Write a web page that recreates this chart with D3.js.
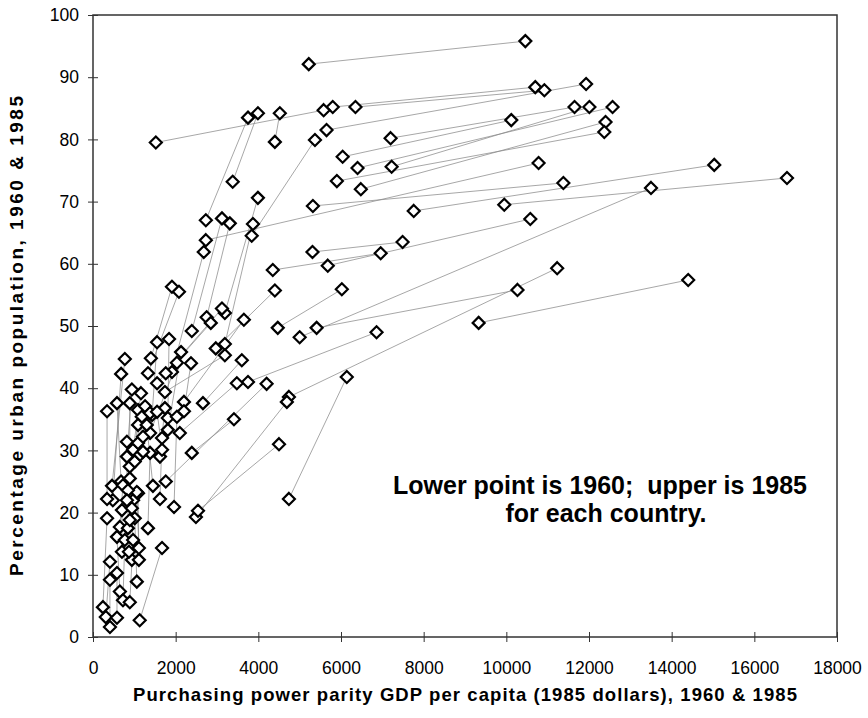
<!DOCTYPE html>
<html><head><meta charset="utf-8">
<script src="https://cdn.jsdelivr.net/npm/d3@7"></script>
<style>body{margin:0;background:#fff}svg{display:block}</style>
</head><body>
<svg id="c" width="868" height="718"></svg>
<script>
// 1960 and 1985 values for each country (paired by index)
const gdp1960 = [5220,5800,6350,1520,7200,6040,5650,7225,6400,6480,5900,2730,5320,5000,7760,9950,5680,4740,5410,9330,5310,4350,3750,4470,4740,
 3380,4400,2730,3840,3190,2390,2750,3190,1910,2970,1760,1550,2200,1400,1330,1740,2660,2100,2490,2540,1760,2390,2200,970,820,1430,1810,1810,1380,460,480,680,340,
 410,310,240,580,1130,650,725,890,1060,940,700,870,1110,1110,650,845,890,1330,820,890,1010,1140,1210,1090,1210,1620,1670,1620,1960,1450];
const urb1960 = [92.1,85.2,85.2,79.5,80.2,77.2,81.5,75.6,75.4,72.0,73.3,63.8,69.3,48.2,68.5,69.5,59.7,38.6,49.7,50.5,61.9,59.0,41.0,49.7,22.2,
 73.2,79.6,67.0,64.5,52.1,49.2,51.4,47.1,42.6,46.4,42.4,40.8,37.8,44.8,42.4,39.4,37.6,32.8,19.3,20.3,25.0,29.6,36.3,30.1,29.0,35.7,35.2,33.3,32.8,24.3,22.0,25.0,22.2,
 1.6,3.2,4.8,3.1,2.7,7.3,5.9,5.6,8.9,12.4,13.7,13.7,12.4,14.3,17.7,17.5,18.8,17.5,22.0,27.4,28.2,29.3,29.8,31.2,32.2,29.0,30.1,22.2,20.9,24.3];
const gdp1985 = [10460,10700,10920,5580,11650,10120,11930,12010,12570,12400,12370,10780,11380,13500,15030,16790,10580,11230,10270,14400,7490,6960,6860,6020,6140,
 3990,4520,3750,5370,3990,3120,3310,3870,2680,4400,3120,2850,3650,1910,2080,3190,3600,3480,4690,4500,4200,3410,2370,1160,940,1550,1840,2130,2030,770,680,580,340,
 410,410,340,580,1670,580,770,970,1010,970,700,940,1090,1060,725,845,890,1380,820,890,1090,1180,1260,1090,1380,1740,1550,1670,2030,1300];
const urb1985 = [95.8,88.4,87.9,84.7,85.2,83.1,88.9,85.2,85.2,82.8,81.2,76.2,73.0,72.2,75.9,73.8,67.2,59.3,55.8,57.4,63.5,61.7,49.0,55.9,41.8,
 84.2,84.2,83.5,79.9,70.6,67.3,66.5,66.4,61.9,55.7,52.8,50.5,51.0,56.3,55.5,45.3,44.5,40.8,37.8,31.0,40.7,35.0,44.0,39.2,39.8,47.4,47.9,45.8,44.1,44.7,42.3,37.6,36.3,
 9.2,12.1,19.1,10.3,14.3,16.1,15.6,15.6,19.1,22.0,20.4,20.7,23.1,23.3,24.4,23.6,25.5,29.6,31.4,37.6,36.5,35.4,37.1,34.1,36.0,36.8,36.2,32.0,35.4,34.1];

const xTicks = [0,2000,4000,6000,8000,10000,12000,14000,16000,18000];
const yTicks = [0,10,20,30,40,50,60,70,80,90,100];
const xTitle = "Purchasing power parity GDP per capita (1985 dollars), 1960 & 1985";
const yTitle = "Percentage urban population, 1960 & 1985";
const note = ["Lower point is 1960;  upper is 1985", "for each country."];

const svg = d3.select("#c");
const L = 93, R = 837, T = 15, B = 637;
const x = d3.scaleLinear().domain([0,18000]).range([L,R]);
const y = d3.scaleLinear().domain([0,100]).range([B,T]);
const font = "'Liberation Sans', Arial, sans-serif";

const pairs = gdp1960.map((g,i)=>({g0:g,u0:urb1960[i],g1:gdp1985[i],u1:urb1985[i]}));

// connecting lines
svg.append("g").selectAll("line").data(pairs).join("line")
  .attr("x1",d=>x(d.g0)).attr("y1",d=>y(d.u0))
  .attr("x2",d=>x(d.g1)).attr("y2",d=>y(d.u1))
  .attr("stroke","#8a8a8a").attr("stroke-width",0.75);

// frame
svg.append("rect").attr("x",L).attr("y",T).attr("width",R-L).attr("height",B-T)
  .attr("fill","none").attr("stroke","#333").attr("stroke-width",1.5);

// axes
const ya = svg.append("g").attr("transform",`translate(${L},0)`)
  .call(d3.axisLeft(y).tickValues(yTicks).tickSize(5).tickPadding(9).tickFormat(d3.format("d")));
ya.select(".domain").remove();
ya.selectAll(".tick line").attr("x1",5).attr("x2",-5).attr("stroke","#333");
ya.selectAll(".tick text").attr("font-family",font).attr("font-size",17.5).attr("fill","#000");

const xa = svg.append("g").attr("transform",`translate(0,${B})`)
  .call(d3.axisBottom(x).tickValues(xTicks).tickSize(5).tickPadding(20).tickFormat(d3.format("d")));
xa.select(".domain").remove();
xa.selectAll(".tick line").attr("y1",-5).attr("y2",5).attr("stroke","#333");
xa.selectAll(".tick text").attr("font-family",font).attr("font-size",17.5).attr("fill","#000");

// markers
const pts = [];
pairs.forEach(d=>{pts.push([d.g0,d.u0]);pts.push([d.g1,d.u1]);});
svg.append("g").selectAll("path").data(pts).join("path")
  .attr("transform",d=>`translate(${x(d[0])},${y(d[1])})`)
  .attr("d","M0,-6L6,0L0,6L-6,0Z")
  .attr("fill","#fff").attr("stroke","#000").attr("stroke-width",2.2);

// titles
svg.append("text").attr("x",465).attr("y",701).attr("text-anchor","middle")
  .attr("textLength",664).attr("lengthAdjust","spacing")
  .attr("font-family",font).attr("font-weight","bold").attr("font-size",18.5).text(xTitle);
svg.append("text").attr("transform","translate(23,336) rotate(-90)").attr("text-anchor","middle")
  .attr("textLength",480).attr("lengthAdjust","spacing")
  .attr("font-family",font).attr("font-weight","bold").attr("font-size",19).text(yTitle);

svg.append("g").selectAll("text").data(note).join("text")
  .attr("x",(d,i)=>i?606:600).attr("y",(d,i)=>494+i*28).attr("text-anchor","middle")
  .attr("font-family",font).attr("font-weight","bold").attr("font-size",25)
  .style("white-space","pre").text(d=>d);
</script>
</body></html>
